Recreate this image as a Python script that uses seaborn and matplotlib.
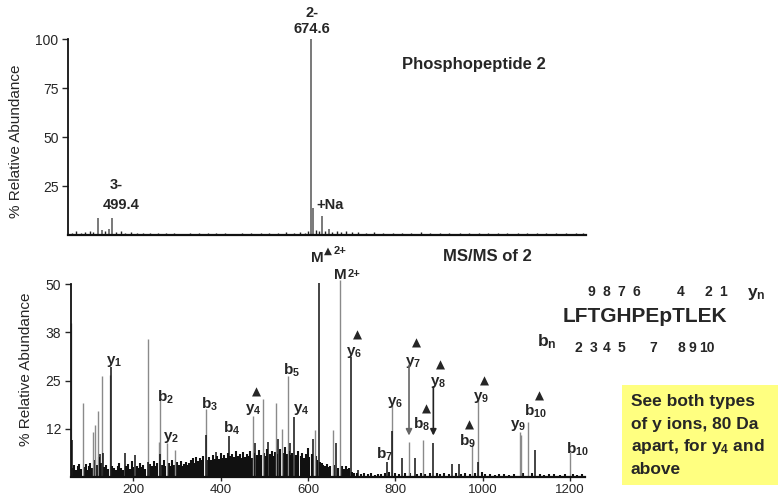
import numpy as np
import pandas as pd
import matplotlib
matplotlib.use("Agg")
import matplotlib.pyplot as plt
import seaborn as sns
from matplotlib.patches import Rectangle

# ---------------- data: MS spectrum (top) ----------------
ms1_peak_mz = [487.3, 490.5, 496.5, 499.4, 674.6, 676.0, 684.3, 690.5]
ms1_peak_ab = [8.6, 2.5, 3.0, 8.5, 100.0, 13.6, 9.7, 3.0]
ms1_noise_mz = [464, 468, 472, 476, 480, 483, 493, 503, 507, 511, 516, 521, 527,
                533, 540, 547, 554, 561, 568, 576, 584, 591, 599, 607, 614, 622,
                630, 637, 645, 652, 659, 665, 669, 672, 679, 681, 687, 693, 697,
                701, 705, 710, 716, 723, 730, 738, 746, 754, 762, 771, 779, 788,
                796, 805, 813, 822, 830, 839, 847, 856, 864, 873, 881, 890, 898,
                907, 913]
ms1_noise_ab = [1.2, 1.8, 1.0, 1.5, 2.0, 1.3, 1.9, 1.6, 2.2, 1.1, 1.4, 0.9, 1.2,
                0.8, 1.1, 0.9, 1.0, 0.7, 1.2, 0.8, 1.0, 0.9, 1.1, 0.7, 0.9, 1.2,
                0.8, 1.0, 0.9, 1.3, 1.1, 1.6, 1.2, 2.0, 2.4, 1.8, 2.2, 1.7, 2.0,
                1.5, 1.8, 1.3, 1.6, 1.1, 1.4, 1.0, 1.2, 0.9, 1.1, 1.3, 0.9, 1.0,
                1.2, 0.8, 1.1, 0.9, 1.0, 1.2, 0.8, 1.0, 0.9, 1.1, 0.8, 1.0, 0.9,
                1.1, 0.8]

# ---------------- data: MS/MS spectrum (bottom) ----------------
ms2_gray_mz = [57.5, 84, 108, 113, 118, 128, 146, 233, 258, 261, 277.5, 296, 365,
               473, 496, 526.5, 539.5, 553, 616, 656, 673, 792, 831, 862, 976, 989,
               1085, 1088, 1103, 1200]
ms2_gray_ab = [40.0, 19.3, 11.8, 13.5, 17.2, 26.2, 26.5, 35.7, 9.2, 20.3, 9.0, 7.1,
               17.6, 15.9, 20.3, 19.1, 12.5, 26.2, 12.2, 12.2, 51.0, 18.7, 9.2, 9.6,
               8.8, 20.5, 11.8, 11.0, 14.3, 6.5]
ms2_dark_mz = [60, 124, 130, 148, 180, 203.6, 233.5, 261.5, 365.5, 389, 418, 479,
               509, 532, 558.5, 568.5, 612, 624, 664, 697.5, 715, 780, 792.5, 815,
               845, 887, 929, 945.5, 990, 1120]
ms2_dark_ab = [9.6, 6.0, 6.4, 28.6, 6.4, 5.8, 4.0, 6.0, 10.9, 6.6, 10.8, 8.8,
               9.2, 10.0, 9.0, 15.7, 10.0, 50.3, 9.0, 31.0, 2.0, 4.0, 12.0, 5.0,
               5.0, 8.8, 3.5, 3.5, 4.0, 7.0]
ms2_noise_mz = [62, 65, 69, 72, 76, 79, 88, 91, 95, 98, 101, 104, 111, 116, 120,
                126, 133, 137, 141, 152, 156, 160, 164, 168, 172, 176, 184, 188,
                192, 196, 199, 207, 211, 215, 219, 223, 227, 238, 242, 246, 250,
                254, 265, 270, 273, 281, 285, 289, 293, 300, 304, 308, 312, 316,
                320, 324, 328, 332, 336, 340, 344, 348, 352, 356, 360, 370, 374,
                378, 382, 386, 392, 396, 400, 404, 408, 412, 416, 422, 426, 430,
                435, 439, 443, 447, 451, 455, 459, 463, 467, 471, 476, 483, 487,
                492, 499, 503, 506, 513, 517, 521, 525, 529, 535, 543, 547, 551,
                556, 561, 564, 572, 576, 583, 587, 591, 596, 600, 603, 608, 619,
                621, 627, 631, 635, 639, 643, 647, 651, 659, 668, 677, 681, 686,
                690, 694, 700, 706, 712, 720, 728, 736, 744, 752, 760, 768, 776,
                786, 798, 808, 822, 834, 850, 858, 868, 878, 894, 902, 912, 922,
                938, 950, 960, 970, 982, 998, 1006, 1016, 1028, 1038, 1048, 1060,
                1072, 1092, 1112, 1130, 1140, 1152, 1164, 1176, 1188, 1206, 1216,
                1226]
ms2_noise_ab = [2.5, 3.2, 1.8, 2.9, 3.5, 2.1, 2.6, 3.4, 1.9, 2.8, 3.6, 2.3, 4.5,
                3.1, 5.2, 3.8, 2.7, 3.3, 2.2, 3.0, 2.4, 1.9, 2.8, 3.6, 2.5, 2.0,
                2.9, 3.4, 2.2, 4.1, 2.6, 3.0, 2.3, 3.8, 2.7, 3.3, 2.1, 3.5, 2.9,
                4.2, 2.8, 3.6, 3.1, 4.4, 2.9, 3.7, 3.0, 4.6, 3.3, 3.9, 3.2, 4.1,
                2.9, 3.5, 4.0, 3.1, 3.8, 4.4, 4.9, 3.8, 5.2, 4.3, 5.0, 4.5, 5.4,
                4.6, 5.3, 4.4, 5.8, 4.7, 5.6, 4.8, 6.2, 5.1, 5.7, 4.9, 6.3, 5.4,
                6.0, 5.2, 6.8, 5.5, 6.1, 5.0, 6.5, 5.3, 6.0, 5.6, 6.9, 5.1, 6.3,
                5.8, 7.0, 5.7, 6.4, 5.5, 7.2, 6.1, 6.8, 5.4, 6.6, 5.9, 7.4, 6.3,
                7.8, 6.0, 6.9, 5.7, 6.4, 5.8, 6.7, 5.5, 6.2, 5.0, 5.9, 7.5, 5.2,
                6.0, 5.4, 4.6, 4.0, 3.6, 3.1, 2.9, 3.4, 2.6, 2.9, 3.2, 2.5, 2.8,
                2.2, 3.0, 2.1, 2.4, 1.5, 1.2, 1.0, 0.9, 1.1, 0.8, 1.0, 0.7, 0.9,
                0.8, 1.0, 1.3, 1.1, 0.9, 1.2, 1.0, 0.8, 1.1, 0.9, 1.0, 1.2, 0.8,
                1.0, 0.9, 1.1, 0.8, 1.0, 0.9, 1.2, 1.4, 0.8, 0.9, 0.7, 0.9, 0.8,
                0.7, 0.9, 1.0, 1.1, 0.9, 0.7, 0.8, 0.9, 0.7, 0.8, 0.9, 0.7, 0.8]

# ion labels (text), with their label anchor (mz, abundance) and optional triangle
ion_labels = ["y$_{1}$", "b$_{2}$", "y$_{2}$", "b$_{3}$", "b$_{4}$", "y$_{4}$",
              "b$_{5}$", "y$_{4}$", "y$_{6}$", "y$_{6}$", "b$_{7}$", "y$_{7}$",
              "y$_{8}$", "b$_{8}$", "y$_{9}$", "b$_{9}$", "y$_{9}$", "b$_{10}$",
              "b$_{10}$"]
ion_pos = [(137, 29.3), (253, 19.7), (268, 9.6), (355, 17.8), (406, 11.5),
           (455, 17.0), (543, 26.5), (566, 17.0), (687, 31.6), (780, 18.7),
           (755, 4.9), (822, 29.0), (878, 23.9), (841, 12.7), (978, 20.0),
           (946, 8.1), (1062, 12.7), (1094, 15.9), (1190, 6.2)]
tri_pos = [None, None, None, None, None, (482, 22.1), None, None, (713, 36.8),
           None, None, (849, 34.7), (904, 29.0), (870, 17.6), (1003, 24.9),
           (970, 13.4), None, (1129, 21.0), None]

y_ticks_ms1 = [25, 50, 75, 100]
y_ticks_ms2 = [12.5, 25, 37.5, 50]
y_ticklabels_ms2 = ["12", "25", "38", "50"]
x_ticks_ms2 = [200, 400, 600, 800, 1000, 1200]

# ---------------- style ----------------
sns.set_theme(style="ticks")
plt.rcParams["font.family"] = ["Liberation Sans", "DejaVu Sans"]
plt.rcParams["mathtext.fontset"] = "custom"
for k in ("rm", "it", "bf", "sf"):
    plt.rcParams["mathtext." + k] = "Liberation Sans:bold"
plt.rcParams["mathtext.default"] = "rm"

W, H = 778, 499
fig = plt.figure(figsize=(W / 100, H / 100), dpi=100)
fig.patch.set_facecolor("white")


def fx(px):
    return px / W


def fy(py):
    return 1 - py / H


ax1 = fig.add_axes([fx(68.3), fy(235), fx(586) - fx(68.3), fy(39.3) - fy(235)])
ax2 = fig.add_axes([fx(71), fy(477.3), fx(585) - fx(71), fy(284) - fy(477.3)])


def sticks(ax, mz, ab, color, lw):
    rows = []
    for i, (m, a) in enumerate(zip(mz, ab)):
        rows.append((m, 0.0, i))
        rows.append((m, a, i))
    df = pd.DataFrame(rows, columns=["mz", "ab", "pid"])
    n0 = len(ax.lines)
    sns.lineplot(data=df, x="mz", y="ab", units="pid", estimator=None,
                 color=color, linewidth=lw, ax=ax, legend=False)
    for ln in ax.lines[n0:]:
        ln.set_clip_on(False)
        ln.set_solid_capstyle("butt")


# top spectrum
sticks(ax1, ms1_noise_mz, ms1_noise_ab, "#222222", 1.0)
sticks(ax1, ms1_peak_mz, ms1_peak_ab, "#555555", 1.1)
ax1.set_xlim(461, 916)
ax1.set_ylim(0, 100)

# bottom spectrum
sticks(ax2, ms2_noise_mz, ms2_noise_ab, "#111111", 1.5)
sticks(ax2, ms2_gray_mz, ms2_gray_ab, "#8a8a8a", 1.0)
sticks(ax2, ms2_dark_mz, ms2_dark_ab, "#111111", 1.1)
ax2.set_xlim(57, 1234)
ax2.set_ylim(0, 50)

for ax in (ax1, ax2):
    sns.despine(ax=ax)
    ax.set_xlabel("")
    ax.set_ylabel("% Relative Abundance", fontsize=11)
    ax.tick_params(axis="y", direction="out", length=4, width=1, labelsize=10, pad=3)
    ax.spines["left"].set_linewidth(1.3)
    ax.spines["bottom"].set_linewidth(1.6)
    ax.spines["left"].set_color("#111111")
    ax.spines["bottom"].set_color("#111111")
    ax.set_facecolor("white")
    ax.grid(False)

ax1.set_yticks(y_ticks_ms1)
ax1.set_yticklabels([str(t) for t in y_ticks_ms1])
ax1.tick_params(axis="x", bottom=False, labelbottom=False)
ax1.yaxis.set_label_coords(-0.087, 0.48)

ax2.set_yticks(y_ticks_ms2)
ax2.set_yticklabels(y_ticklabels_ms2)
ax2.set_xticks(x_ticks_ms2)
ax2.set_xticklabels([str(t) for t in x_ticks_ms2])
ax2.tick_params(axis="x", direction="out", length=3, width=1, labelsize=9.5, pad=1.5)
ax2.yaxis.set_label_coords(-0.0735, 0.56)

bold = dict(fontweight="bold", clip_on=False)
LBL = 11

# top annotations
ax1.text(674.9, 113.3, "2-", ha="center", va="center", fontsize=10.5, **bold)
ax1.text(674.9, 105.1, "674.6", ha="center", va="center", fontsize=10.5, **bold)
ax1.text(503.5, 25.5, "3-", ha="center", va="center", fontsize=10.5, **bold)
ax1.text(507.3, 15.3, "499.4", ha="center", va="center", fontsize=10.5, **bold)
ax1.text(678.7, 15.3, "+Na", ha="left", va="center", fontsize=10.5, **bold)
ax1.text(817.5, 86.9, "Phosphopeptide 2", ha="center", va="center", fontsize=12, **bold)

# bottom annotations
ax2.text(1009.6, 57.1, "MS/MS of 2", ha="center", va="center", fontsize=12, **bold)
ax2.text(607, 55.8, "M", ha="left", va="baseline", fontsize=LBL, **bold)
ax2.text(646, 58.6, "▲", ha="center", va="center", fontsize=7.5,
         family=["DejaVu Sans"], clip_on=False)
ax2.text(658, 58.6, "2+", ha="left", va="center", fontsize=8, **bold)
ax2.text(659, 51.2, "M", ha="left", va="baseline", fontsize=LBL, **bold)
ax2.text(690, 52.6, "2+", ha="left", va="center", fontsize=8, **bold)

for txt, (mx, my), tp in zip(ion_labels, ion_pos, tri_pos):
    ax2.text(mx, my, txt, ha="left", va="baseline", fontsize=LBL, **bold)
    if tp is not None:
        ax2.text(tp[0], tp[1], "▲", ha="center", va="center", fontsize=8.5,
                 family=["DejaVu Sans"], clip_on=False)

# arrows for y7 and y8
for ax_x, y_top, col in ((831, 29.0, "#666666"), (886.7, 23.4, "#222222")):
    ax2.annotate("", xy=(ax_x, 10.8), xytext=(ax_x, y_top),
                 arrowprops=dict(arrowstyle="-|>", color=col, lw=1.2,
                                 mutation_scale=9, shrinkA=0, shrinkB=0),
                 annotation_clip=False)

# sequence with fragment numbering
fig.text(fx(645), fy(316), "LFTGHPEpTLEK", ha="center", va="center",
         fontsize=15, fontweight="bold")
for d, px in zip(["9", "8", "7", "6", "4", "2", "1"],
                 [591.8, 606.7, 621.6, 636.5, 680.3, 708.3, 723.3]):
    fig.text(fx(px), fy(291.7), d, ha="center", va="center", fontsize=10, fontweight="bold")
for d, px in zip(["2", "3", "4", "5", "7", "8", "9", "10"],
                 [578.3, 593.3, 606.7, 621.7, 653.3, 681.7, 692.3, 707.3]):
    fig.text(fx(px), fy(348.3), d, ha="center", va="center", fontsize=10, fontweight="bold")
fig.text(fx(746.7), fy(297), "y$_{n}$", ha="left", va="baseline", fontsize=12.5, fontweight="bold")
fig.text(fx(536.7), fy(346.7), "b$_{n}$", ha="left", va="baseline", fontsize=12.5, fontweight="bold")

# yellow note box
fig.add_artist(Rectangle((fx(621.7), fy(485)), fx(778) - fx(621.7), fy(385) - fy(485),
                         transform=fig.transFigure, facecolor="#FFFF80",
                         edgecolor="none", zorder=0))
for line, py in zip(["See both types", "of y ions, 80 Da", "apart, for y$_{4}$ and", "above"],
                    [401.7, 425, 446.7, 470]):
    fig.text(fx(630.7), fy(py), line, ha="left", va="center", fontsize=12.5,
             fontweight="bold", zorder=2)

fig.savefig("out.png", dpi=100, facecolor="white")
